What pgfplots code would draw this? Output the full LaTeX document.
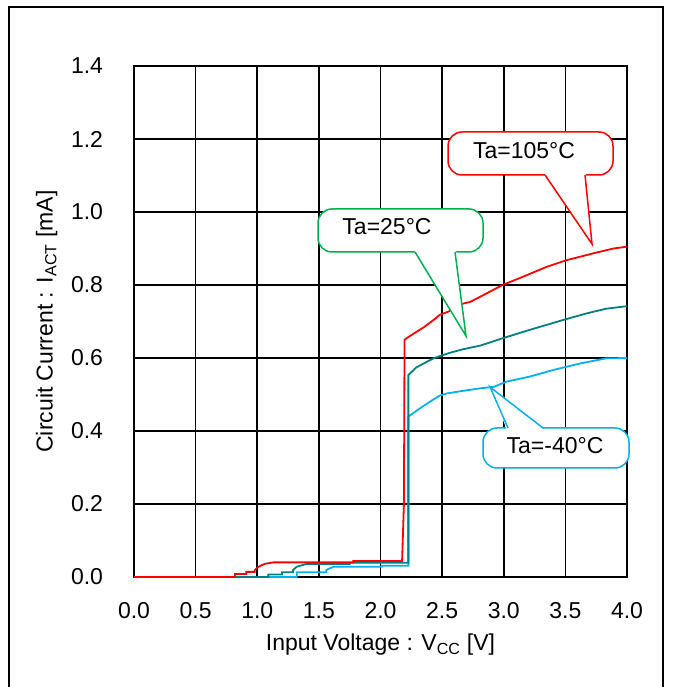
\documentclass[border=0pt]{standalone}
\usepackage{fontspec}
\setmainfont{Liberation Sans}
\usepackage{pgfplots}
\pgfplotsset{compat=1.18}
\definecolor{cred}{RGB}{255,0,0}
\definecolor{cteal}{RGB}{0,128,128}
\definecolor{ccyan}{RGB}{0,176,240}
\definecolor{cgreen}{RGB}{0,176,80}
\newcommand{\bigf}{\fontsize{23}{27}\selectfont}
\begin{document}
\begin{tikzpicture}[x=1pt,y=1pt]
\useasboundingbox (0,0) rectangle (672,687);
\fill[white] (0,0) rectangle (672,687);
\draw[line width=2] (9,-20) -- (9,680) -- (663,680) -- (663,-20);
\begin{axis}[
  at={(134pt,110pt)}, anchor=south west,
  width=493pt, height=511pt, scale only axis,
  xmin=0, xmax=4, ymin=0, ymax=1.4,
  xtick={0,0.5,...,4}, ytick={0,0.2,...,1.4},
  grid=major, major grid style={black, line width=1.6pt},
  axis line style={black, line width=2pt},
  major tick length=0pt,
  clip=false,
  /pgf/number format/assume math mode=true,
  /pgf/number format/.cd, fixed, fixed zerofill, precision=1, /pgfplots/.cd,
  xticklabel style={font=\bigf, anchor=center, yshift=-34pt},
  yticklabel style={font=\bigf, anchor=center, xshift=-47pt},
  xlabel={Input Voltage : V\textsubscript{CC} [V]},
  ylabel={Circuit Current : I\textsubscript{ACT} [mA]},
  xlabel style={font=\bigf, at={(axis description cs:0.5,-0.133)}, anchor=center},
  ylabel style={font=\bigf, at={(axis description cs:-0.177,0.5)}, anchor=center},
]
\addplot[ccyan, line width=1.8pt] coordinates {
(0,0) (1.32,0) (1.32,0.013) (1.56,0.013) (1.56,0.019) (1.59,0.024) (1.62,0.028)
(2.01,0.028) (2.01,0.031) (2.226,0.031) (2.226,0.439) (2.24,0.443) (2.32,0.462)
(2.40,0.480) (2.48,0.497) (2.54,0.503) (2.67,0.510) (2.81,0.517) (2.92,0.521)
(3.02,0.535) (3.21,0.549) (3.40,0.567) (3.62,0.585) (3.83,0.599) (4.0,0.6)};
\addplot[cteal, line width=1.8pt] coordinates {
(0,0) (1.09,0) (1.09,0.007) (1.2,0.007) (1.2,0.013) (1.29,0.013) (1.29,0.019)
(1.32,0.028) (1.40,0.036) (1.75,0.036) (1.75,0.039) (2.226,0.039) (2.226,0.553)
(2.24,0.558) (2.29,0.574) (2.35,0.585) (2.43,0.599) (2.48,0.605) (2.56,0.614)
(2.67,0.624) (2.81,0.634) (2.99,0.654) (3.21,0.677) (3.48,0.704) (3.67,0.722)
(3.83,0.735) (4.0,0.742)};
\addplot[cred, line width=1.8pt] coordinates {
(0,0) (0.82,0) (0.82,0.008) (0.91,0.008) (0.91,0.014) (0.98,0.014) (0.98,0.019)
(1.01,0.028) (1.06,0.036) (1.13,0.040) (1.78,0.040) (1.78,0.044) (2.175,0.044)
(2.19,0.2) (2.195,0.649) (2.21,0.654) (2.27,0.667) (2.35,0.684) (2.43,0.704)
(2.48,0.718) (2.55,0.727) (2.66,0.748) (2.73,0.754) (2.81,0.768) (2.99,0.8)
(3.13,0.819) (3.35,0.85) (3.51,0.868) (3.73,0.887) (3.89,0.9) (4.0,0.905)};
\end{axis}
% red callout
\filldraw[fill=white, draw=cred, line width=1.5, rounded corners=14] (448,512) rectangle (613,555);
\fill[white] (544,514) -- (592,443) -- (586,514) -- cycle;
\draw[cred, line width=1.5] (545,512) -- (592,443) -- (585,512);
\node[font=\bigf] at (524,536) {Ta=105°C};
% green callout
\filldraw[fill=white, draw=cgreen, line width=1.5, rounded corners=14] (318,435) rectangle (483,478);
\fill[white] (414,437) -- (466,351) -- (456,437) -- cycle;
\draw[cgreen, line width=1.5] (415,435) -- (466,351) -- (455,435);
\node[font=\bigf] at (387,460) {Ta=25°C};
% cyan callout
\filldraw[fill=white, draw=ccyan, line width=1.5, rounded corners=14] (483,219) rectangle (629,259);
\fill[white] (507,257) -- (490,300) -- (544,257) -- cycle;
\draw[ccyan, line width=1.5] (508,259) -- (490,300) -- (543,259);
\node[font=\bigf] at (555,241) {Ta=-40°C};
\end{tikzpicture}
\end{document}
